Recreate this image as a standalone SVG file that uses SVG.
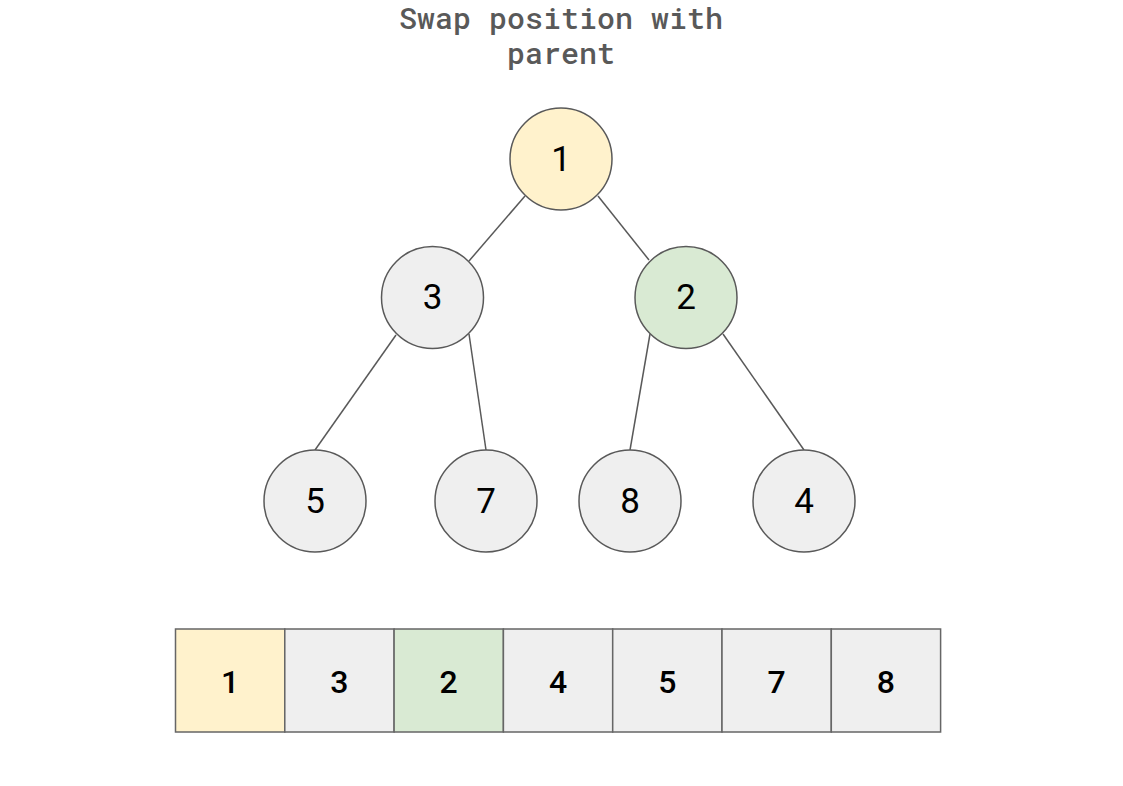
<svg xmlns="http://www.w3.org/2000/svg" width="1123" height="786" viewBox="0 0 1123 786">
<style>
.title{font-family:"Roboto Mono","DejaVu Sans Mono","Liberation Mono",monospace;font-size:30px;font-weight:500;fill:#595959;text-anchor:middle}
.node circle{stroke:#595959;stroke-width:1.5}
.node text{font-family:Roboto,"Liberation Sans",sans-serif;font-size:35px;fill:#000;text-anchor:middle;dominant-baseline:central}
.cell rect{stroke:#666666;stroke-width:1.5}
.cell text{font-family:Roboto,"Liberation Sans",sans-serif;font-size:32px;font-weight:500;fill:#000;text-anchor:middle;dominant-baseline:central}
.edges line{stroke:#595959;stroke-width:1.5}
.y{fill:#fff2cc}.g{fill:#efefef}.gr{fill:#d9ead3}
</style>
<rect width="1123" height="786" fill="#ffffff"/>
<g id="title">
<text class="title"><tspan x="561" y="29">Swap position with</tspan><tspan x="561" y="64">parent</tspan></text>
</g>
<g class="edges" id="connectors">
<line x1="525" y1="196" x2="469" y2="261"/>
<line x1="598" y1="196" x2="649" y2="260"/>
<line x1="396" y1="335" x2="315" y2="450"/>
<line x1="469" y1="334" x2="486" y2="450"/>
<line x1="650" y1="334" x2="630" y2="450"/>
<line x1="723" y1="334" x2="804" y2="450"/>
</g>
<g class="node" id="n1"><circle class="y" cx="561" cy="159" r="51"/><text x="561" y="159">1</text></g>
<g class="node" id="n3"><circle class="g" cx="432.5" cy="297.5" r="51"/><text x="432.5" y="297.5">3</text></g>
<g class="node" id="n2"><circle class="gr" cx="686" cy="297.5" r="51"/><text x="686" y="297.5">2</text></g>
<g class="node" id="n5"><circle class="g" cx="315" cy="501" r="51"/><text x="315" y="501">5</text></g>
<g class="node" id="n7"><circle class="g" cx="486" cy="501" r="51"/><text x="486" y="501">7</text></g>
<g class="node" id="n8"><circle class="g" cx="630" cy="501" r="51"/><text x="630" y="501">8</text></g>
<g class="node" id="n4"><circle class="g" cx="804" cy="501" r="51"/><text x="804" y="501">4</text></g>
<g class="cell" id="a0"><rect class="y" x="175.5" y="629" width="109.3" height="103"/><text x="230" y="682">1</text></g>
<g class="cell" id="a1"><rect class="g" x="284.8" y="629" width="109.3" height="103"/><text x="339.4" y="682">3</text></g>
<g class="cell" id="a2"><rect class="gr" x="394.1" y="629" width="109.3" height="103"/><text x="448.7" y="682">2</text></g>
<g class="cell" id="a3"><rect class="g" x="503.4" y="629" width="109.3" height="103"/><text x="558" y="682">4</text></g>
<g class="cell" id="a4"><rect class="g" x="612.7" y="629" width="109.3" height="103"/><text x="667.3" y="682">5</text></g>
<g class="cell" id="a5"><rect class="g" x="722" y="629" width="109.3" height="103"/><text x="776.6" y="682">7</text></g>
<g class="cell" id="a6"><rect class="g" x="831.3" y="629" width="109.3" height="103"/><text x="885.9" y="682">8</text></g>
</svg>
